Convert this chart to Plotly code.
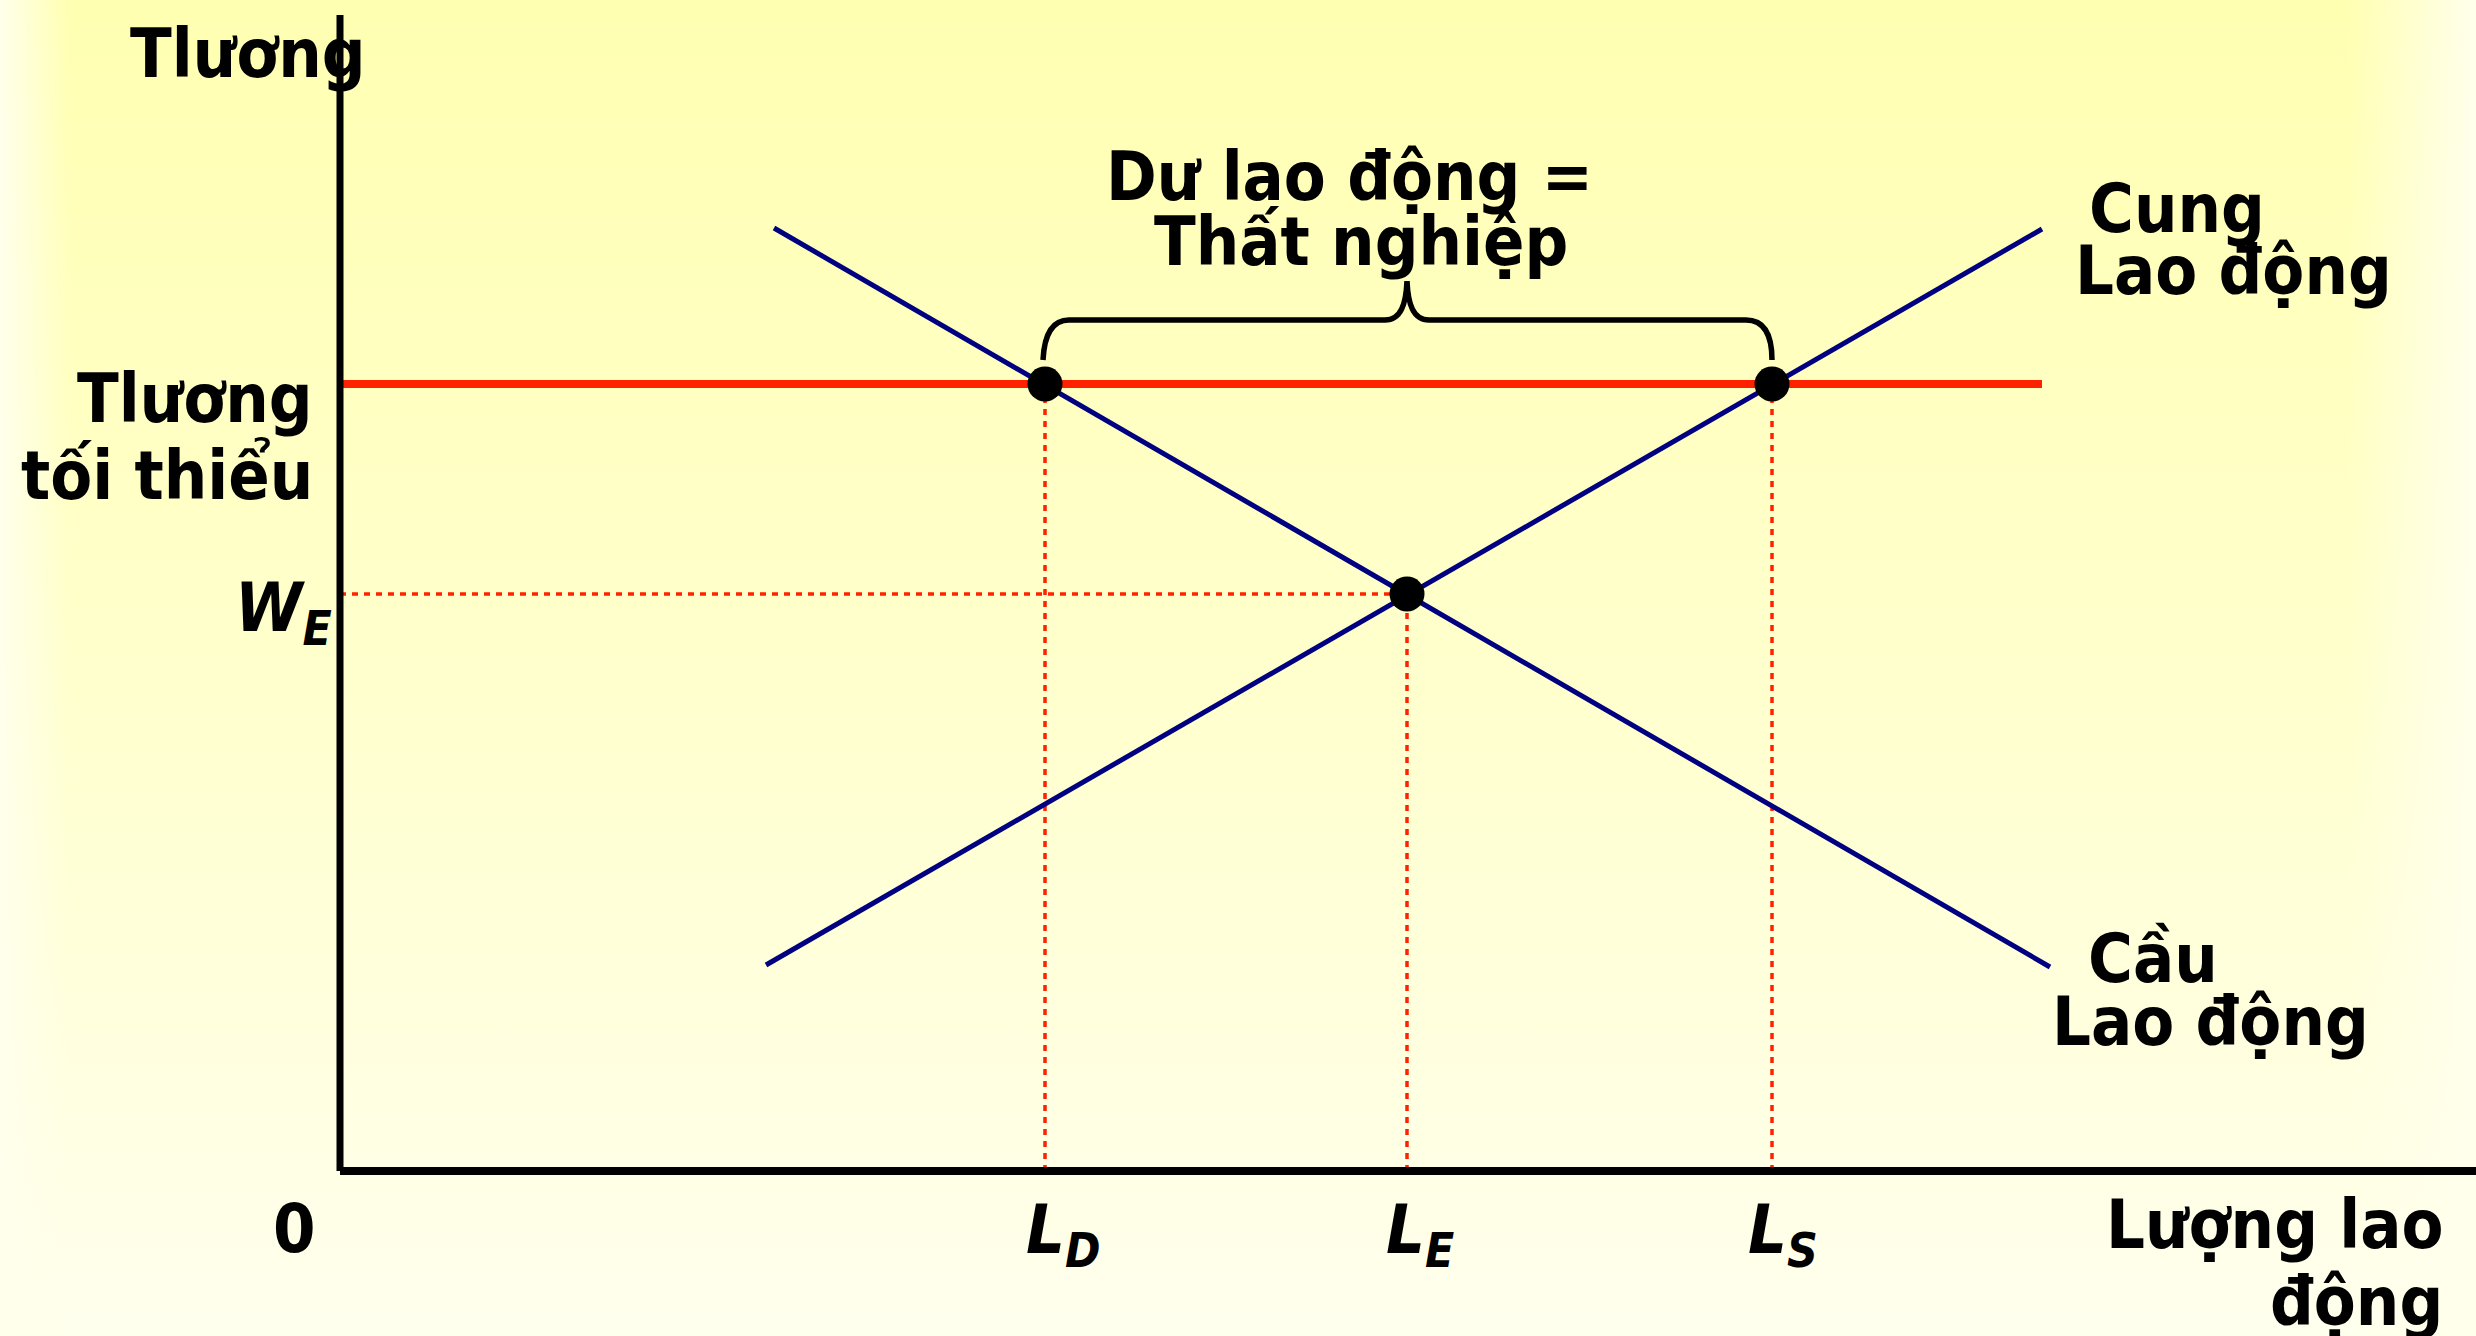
import plotly.graph_objects as go

# ---- data (units: quantity of labour on x, wage on y) ----
L_D = 70.5
L_E = 106.7
L_S = 143.2
W_E = 57.7
W_MIN = 78.7

demand_x = [43.4, 171.0]
demand_y = [94.3, 20.4]
supply_x = [42.6, 170.2]
supply_y = [20.6, 94.2]
minwage_x = [0.0, 170.2]
points_x = [L_D, L_E, L_S]
points_y = [W_MIN, W_E, W_MIN]

X_MIN, X_MAX = -34.0, 213.6
Y_MIN, Y_MAX = -16.5, 117.1
AXIS_TOP = 115.6

FONT = "DejaVu Sans Condensed, Liberation Sans, sans-serif"
FS = 68
NAVY = "#000080"
RED = "#FF2200"

fig = go.Figure()

# background gradient
bx = [X_MIN, X_MAX, X_MAX, X_MIN, X_MIN]
by = [Y_MIN, Y_MIN, Y_MAX, Y_MAX, Y_MIN]
fig.add_trace(go.Scatter(x=bx, y=by, fill="toself", mode="none", hoverinfo="skip",
                         fillgradient=dict(type="vertical",
                                           colorscale=[[0, "#FFFFEE"], [0.45, "#FFFFD0"], [1, "#FFFFB2"]])))
# edge fades
lx = [X_MIN, X_MIN + 7, X_MIN + 7, X_MIN, X_MIN]
fig.add_trace(go.Scatter(x=lx, y=by, fill="toself", mode="none", hoverinfo="skip",
                         fillgradient=dict(type="horizontal",
                                           colorscale=[[0, "rgba(255,255,236,1)"], [1, "rgba(255,255,236,0)"]])))
rx = [X_MAX - 13, X_MAX, X_MAX, X_MAX - 13, X_MAX - 13]
fig.add_trace(go.Scatter(x=rx, y=by, fill="toself", mode="none", hoverinfo="skip",
                         fillgradient=dict(type="horizontal",
                                           colorscale=[[0, "rgba(255,255,236,0)"], [1, "rgba(255,255,236,1)"]])))

dot_line = dict(color=RED, width=3.5, dash="6px,6px")
# dotted guide lines
fig.add_trace(go.Scatter(x=[0, L_E], y=[W_E, W_E], mode="lines", line=dot_line, hoverinfo="skip"))
fig.add_trace(go.Scatter(x=[L_D, L_D], y=[0, W_MIN], mode="lines", line=dot_line, hoverinfo="skip"))
fig.add_trace(go.Scatter(x=[L_E, L_E], y=[0, W_E], mode="lines", line=dot_line, hoverinfo="skip"))
fig.add_trace(go.Scatter(x=[L_S, L_S], y=[0, W_MIN], mode="lines", line=dot_line, hoverinfo="skip"))

# minimum wage line
fig.add_trace(go.Scatter(x=minwage_x, y=[W_MIN, W_MIN], mode="lines",
                         line=dict(color=RED, width=8), hoverinfo="skip"))
# demand & supply
fig.add_trace(go.Scatter(x=demand_x, y=demand_y, mode="lines",
                         line=dict(color=NAVY, width=5), hoverinfo="skip"))
fig.add_trace(go.Scatter(x=supply_x, y=supply_y, mode="lines",
                         line=dict(color=NAVY, width=5), hoverinfo="skip"))
# points
fig.add_trace(go.Scatter(x=points_x, y=points_y, mode="markers",
                         marker=dict(color="black", size=35), hoverinfo="skip"))

# axes
fig.add_shape(type="line", x0=0, x1=0, y0=0, y1=AXIS_TOP, xref="x", yref="y",
              line=dict(color="black", width=7))
fig.add_shape(type="line", x0=0, x1=X_MAX, y0=0, y1=0, xref="x", yref="y",
              line=dict(color="black", width=8))

# brace
b0 = W_MIN + 2.4
b1 = W_MIN + 6.4
bt = W_MIN + 10.3
cx = L_E
path = (f"M {L_D - 0.2},{b0} Q {L_D},{b1} {L_D + 2.4},{b1} "
        f"L {cx - 2.2},{b1} C {cx - 0.6},{b1} {cx - 0.1},{b1 + 1.6} {cx},{bt} "
        f"C {cx + 0.1},{b1 + 1.6} {cx + 0.6},{b1} {cx + 2.2},{b1} "
        f"L {L_S - 2.6},{b1} Q {L_S},{b1} {L_S},{b0}")
fig.add_shape(type="path", path=path, xref="x", yref="y",
              line=dict(color="black", width=5.5))


def ann(text, x, y, xanchor="center", size=FS):
    fig.add_annotation(text=text, x=x, y=y, xref="x", yref="y", xanchor=xanchor,
                       yanchor="middle", showarrow=False,
                       font=dict(family=FONT, size=size, color="black", weight="bold"))


ann("Tlương", -9.2, 111.8)
ann("Tlương", -2.5, 77.3, "right")
ann("tối thiểu", -2.5, 69.6, "right")
ann("<i>W</i><sub><i>E</i></sub>", -0.6, 55.9, "right")
ann("0", -4.6, -5.7)
ann("<i>L</i><sub><i>D</i></sub>", L_D - 2.1, -6.3, "left")
ann("<i>L</i><sub><i>E</i></sub>", L_E - 2.3, -6.3, "left")
ann("<i>L</i><sub><i>S</i></sub>", L_S - 2.6, -6.3, "left")
ann("Lượng lao", 210.5, -5.3, "right")
ann("động", 210.5, -13.0, "right")
ann("Cung", 174.7, 96.3, "left")
ann("Lao động", 173.3, 90.1, "left")
ann("Cầu", 174.6, 21.3, "left")
ann("Lao động", 171.0, 15.0, "left")
ann("Dư lao động =", 100.9, 99.5)
ann("Thất nghiệp", 102.1, 93.0)

fig.update_layout(
    width=2476, height=1336,
    margin=dict(l=0, r=0, t=0, b=0),
    paper_bgcolor="#FFFFEE", plot_bgcolor="rgba(0,0,0,0)",
    showlegend=False,
    xaxis=dict(range=[X_MIN, X_MAX], visible=False, fixedrange=True),
    yaxis=dict(range=[Y_MIN, Y_MAX], visible=False, fixedrange=True),
)

fig.write_html("out.html", config={"displayModeBar": False},
               post_script="document.body.style.margin='0';")
